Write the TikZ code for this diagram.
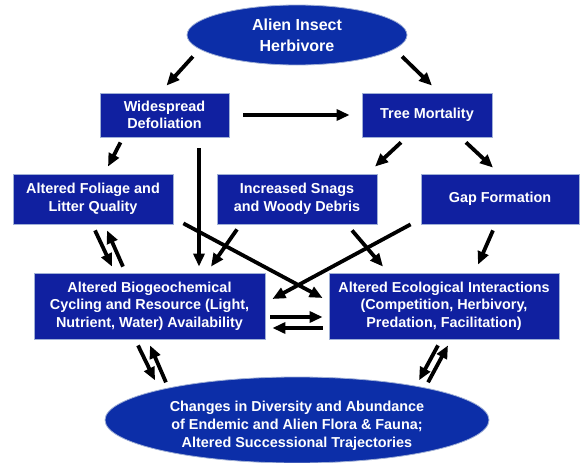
\documentclass[tikz,border=0pt]{standalone}
\usepackage{fontspec}
\setmainfont{Liberation Sans}
\usetikzlibrary{shapes.geometric,arrows.meta}

\definecolor{boxblue}{RGB}{16,32,160}
\definecolor{ovalblue}{RGB}{12,46,168}
\definecolor{rimblue}{RGB}{160,176,214}

\tikzset{
    stage/.style={rectangle, draw=rimblue, line width=0.8pt, fill=boxblue, text=white,
        align=center, inner sep=0pt, font=\bfseries\fontsize{14.4}{17.7}\selectfont},
    oval/.style={ellipse, draw=rimblue, line width=0.8pt, fill=ovalblue, text=white,
        align=center, inner sep=0pt, font=\bfseries\fontsize{14.4}{17.7}\selectfont},
    arr/.style={-{Triangle[length=13pt,width=11pt]}, line width=3.8pt, black},
}

\begin{document}
\begin{tikzpicture}[x=1pt, y=-1pt]
        \useasboundingbox (0,0) rectangle (582,463);

        \node[oval, minimum width=220pt, minimum height=60pt,
            font=\bfseries\fontsize{16}{21}\selectfont] (ins) at (297,35) {Alien Insect\\Herbivore};
        \node[stage, minimum width=129pt, minimum height=44pt] (def) at (164.5,115) {Widespread\\Defoliation};
        \node[stage, minimum width=130pt, minimum height=44pt] (tree) at (427,115) {Tree Mortality};
        \node[stage, minimum width=160pt, minimum height=50pt] (fol) at (93,199) {Altered Foliage and\\Litter Quality};
        \node[stage, minimum width=160pt, minimum height=50pt] (snag) at (297,199) {Increased Snags\\and Woody Debris};
        \node[stage, minimum width=158pt, minimum height=50pt] (gap) at (500,199) {Gap Formation};
        \node[stage, minimum width=231pt, minimum height=66pt] (bio) at (149.5,306)
            {Altered Biogeochemical\\Cycling and Resource (Light,\\Nutrient, Water) Availability};
        \node[stage, minimum width=230pt, minimum height=66pt] (eco) at (444,306)
            {Altered Ecological Interactions\\(Competition, Herbivory,\\Predation, Facilitation)};
        \node[oval, minimum width=384pt, minimum height=86pt] (chg) at (297,420)
            {\rule{0pt}{22pt}Changes in Diversity and Abundance\\of Endemic and Alien Flora \& Fauna;\\Altered Successional Trajectories};

        % first level
        \draw [arr] ([shift={(-26,0)}]ins.south west) -- ([shift={(2,-7)}]def.north);
        \draw [arr] ([shift={(27,0)}]ins.south east) -- ([shift={(5,-7)}]tree.north);
        \draw [arr, shorten <=14pt, shorten >=12pt] (def) -- (tree);

        % second level
        \draw [arr] ([shift={(-44,5)}]def.south) -- ([shift={(15,-7)}]fol.north);
        \draw [arr] ([shift={(34.5,11)}]def.south) -- ([shift={(49.5,-6)}]bio.north);
        \draw [arr] ([shift={(-26,5)}]tree.south) -- ([shift={(78,-7)}]snag.north);
        \draw [arr] ([shift={(39,5)}]tree.south) -- ([shift={(-7,-6)}]gap.north);

        % third level
        \draw [arr] ([shift={(2,6)}]fol.south) -- ([shift={(-37.5,-6)}]bio.north);
        \draw [arr] ([shift={(-26.5,-6)}]bio.north) -- ([shift={(14,6)}]fol.south);
        \draw [arr] ([shift={(10,-1)}]fol.south east) -- ([shift={(-6,-8)}]eco.west);
        \draw [arr] ([shift={(-60,5)}]snag.south) -- ([shift={(61.5,-6)}]bio.north);
        \draw [arr] ([shift={(55,6)}]snag.south) -- ([shift={(-61,-6)}]eco.north);
        \draw [arr] ([shift={(-10,0)}]gap.south west) -- ([shift={(7,-7)}]bio.east);
        \draw [arr] ([shift={(-7,6)}]gap.south) -- ([shift={(34,-8)}]eco.north);
        \draw [arr] ([shift={(5,11)}]bio.east) -- ([shift={(-6,11)}]eco.west);
        \draw [arr] ([shift={(-6,22)}]eco.west) -- ([shift={(7,22)}]bio.east);

        % bottom
        \draw [arr] ([shift={(-11.5,6)}]bio.south) -- ([shift={(-6,-9)}]chg.north west);
        \draw [arr] ([shift={(5,-7)}]chg.north west) -- ([shift={(0.5,6)}]bio.south);
        \draw [arr] ([shift={(-6,6)}]eco.south) -- ([shift={(-14,-9)}]chg.north east);
        \draw [arr] ([shift={(-5,-7)}]chg.north east) -- ([shift={(4,6)}]eco.south);
    \end{tikzpicture}
\end{document}
